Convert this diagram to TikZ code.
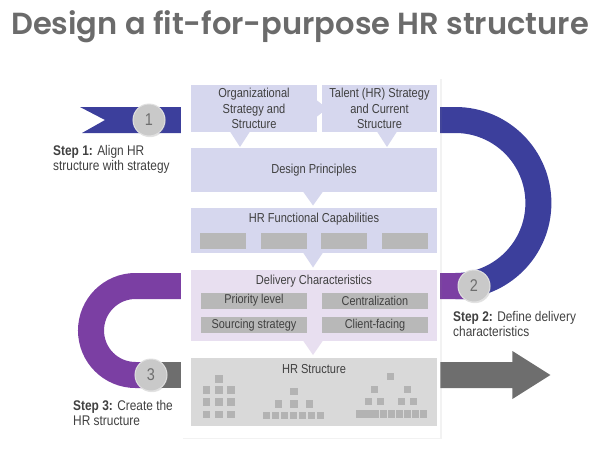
\documentclass[tikz,border=0pt]{standalone}
\usepackage{fontspec}
\setmainfont{Liberation Sans}[FakeStretch=0.85]
\newfontfamily\titlefont{Poppins SemiBold}
\usetikzlibrary{positioning,calc,shadows,backgrounds}
\definecolor{hrBlue}{HTML}{3C3F9C}
\definecolor{hrPurple}{HTML}{7B3FA3}
\definecolor{hrGrayDark}{HTML}{6E6E6E}
\definecolor{boxLavender}{HTML}{D6D7EE}
\definecolor{boxLilac}{HTML}{E8DFF0}
\definecolor{boxGray}{HTML}{D9D9D9}
\definecolor{chipGray}{HTML}{B8B8B8}
\definecolor{blockGray}{HTML}{B3B3B3}
\definecolor{textDark}{HTML}{404040}
\definecolor{titleGray}{HTML}{6B6B6B}
\definecolor{dotGray}{HTML}{C9C9C9}

\begin{document}
\begin{tikzpicture}[
    x=1pt, y=-1pt,
    font=\fontsize{13}{15.5}\selectfont,
    text=textDark,
    lavbox/.style={
        rectangle,
        fill=boxLavender,
        inner sep=0pt,
        outer sep=0pt,
        align=center
    },
    chip/.style={
        rectangle,
        fill=chipGray,
        inner sep=0pt,
        minimum height=16,
        minimum width=106,
        font=\fontsize{12.8}{15}\selectfont
    },
    pointer/.style={
        fill=boxLavender
    },
    band/.style={
        line width=26pt,
        line cap=butt
    },
    stepdot/.style={
        circle,
        fill=dotGray,
        draw=white!88!black,
        line width=1pt,
        minimum size=32,
        inner sep=0pt,
        text=hrGrayDark,
        font=\fontsize{17}{17}\selectfont,
        drop shadow={opacity=0.22, shadow xshift=1pt, shadow yshift=-1.2pt}
    },
    steplabel/.style={
        align=left,
        inner sep=0pt,
        text=textDark,
        font=\fontsize{14}{15.5}\selectfont
    },
    block/.style={
        fill=blockGray
    }
]
\useasboundingbox (0,0) rectangle (597,450);

% -------------------- Title -------------------------------
\node[font=\titlefont\fontsize{30.5}{30}\selectfont, text=titleGray] (title) at (300,27) {Design a fit-for-purpose HR structure};

% -------------------- Panel -------------------------------
\node[
  rectangle,
  fill=white,
  minimum width=259,
  minimum height=360,
  anchor=north west,
  drop shadow={opacity=0.1, shadow xshift=2pt, shadow yshift=-1pt}
] (panel) at (181,78) {};

% -------------------- Boxes -------------------------------
\node[lavbox, minimum width=126, minimum height=47, anchor=north west] (org) at (191,85) {Organizational\\Strategy and\\Structure};

\node[lavbox, minimum width=115, minimum height=47, right=5pt of org] (talent) {Talent (HR) Strategy\\and Current\\Structure};

\node[lavbox, minimum width=246, minimum height=44, below=16pt of org.south west, anchor=north west] (design) {Design Principles};

\node[lavbox, minimum width=246, minimum height=45, below=16pt of design] (func) {};
\node[inner sep=0pt] (funcTitle) at ($(func.north)+(0,11)$) {HR Functional Capabilities};
\foreach \dx [count=\i] in {-91,-30,30,91}
  \node[chip, minimum width=46, name=cap\i] at ($(func.south)+(\dx,-12)$) {};

\node[lavbox, fill=boxLilac, minimum width=246, minimum height=71, below=17pt of func] (deliv) {};
\node[inner sep=0pt] (delivTitle) at ($(deliv.north)+(0,11)$) {Delivery Characteristics};
\node[chip] (prio) at ($(deliv.north)+(-60,30.5)$) {Priority level};
\node[chip] (central) at ($(deliv.north)+(61,30.5)$) {Centralization};
\node[chip] (sourcing) at ($(deliv.north)+(-60,55)$) {Sourcing strategy};
\node[chip] (client) at ($(deliv.north)+(61,55)$) {Client-facing};

\node[lavbox, fill=boxGray, minimum width=246, minimum height=68, below=17pt of deliv] (hrs) {};
\node[inner sep=0pt] (hrsTitle) at ($(hrs.north)+(0,11)$) {HR Structure};

% org chart blocks
\foreach \x/\y in {219/379, 206.5/390, 219/390, 231/390, 206.5/402, 219/402, 231/402, 206.5/414.5, 219/414.5, 231/414.5,
                   294/391.5, 278.5/404, 294/404, 309.5/404,
                   266.7/415.5, 275.7/415.5, 284.7/415.5, 293.7/415.5, 302.7/415.5, 311.7/415.5, 320.7/415.5,
                   390.5/376.7, 374.4/389.5, 407.7/389.5, 368.7/401.4, 380.3/401.4, 401.8/401.4, 413.7/401.4,
                   360/414, 367.9/414, 375.8/414, 383.7/414, 391.6/414, 399.5/414, 407.4/414, 415.3/414, 423.2/414}
  \fill[block] (\x-3.6,\y-3.6) rectangle +(7.2,7.2);

% -------------------- Pointers ----------------------------
\fill[pointer] ($(org.east)+(-0.5,-8.5)$) -- ++(10.5,8.5) -- ++(-10.5,8.5) -- cycle;
\fill[pointer] ($(org.south)+(-14,-0.5)$) -- ++(10,0) -- ++(-10,15.5) -- ++(-10,-15.5) -- cycle;
\fill[pointer] ($(talent.south)+(7.5,-0.5)$) ++(-10,0) -- ++(20,0) -- ++(-10,15.5) -- cycle;
\fill[pointer] ($(design.south)+(-1,-0.5)$) ++(-10,0) -- ++(20,0) -- ++(-10,14) -- cycle;
\fill[pointer] ($(func.south)+(-1,-0.5)$) ++(-10,0) -- ++(20,0) -- ++(-10,15) -- cycle;
\fill[pointer, fill=boxLilac] ($(deliv.south)+(-1,-0.5)$) ++(-10,0) -- ++(20,0) -- ++(-10,14.5) -- cycle;

% -------------------- Steps -------------------------------
\node[stepdot] (s1) at (149,120) {1};
\node[stepdot] (s2) at (474,286) {2};
\node[stepdot] (s3) at (151,375) {3};

\node[steplabel, anchor=north west] (lbl1) at (53,145) {\textbf{Step 1:} Align HR\\structure with strategy};
\node[steplabel, anchor=north west] (lbl2) at (453,311) {\textbf{Step 2:} Define delivery\\characteristics};
\node[steplabel, anchor=north west] (lbl3) at (73,400) {\textbf{Step 3:} Create the\\HR structure};

% -------------------- Ribbons -----------------------------
\begin{scope}[on background layer]
\fill[hrBlue] (s1.center) ++(0,-13) -- (80,107) -- (105,120) -- (82,133) -- (149,133) -- cycle;
\draw[band, draw=hrBlue] (s1.center) -- (panel.east |- s1.center) -- ++(15,0)
  arc[start angle=-90, end angle=90, radius=83] -- (s2.center);
\draw[band, draw=hrPurple] (s2.center) -- (panel.west |- s2.center) -- ++(-45.5,0)
  arc[start angle=-90, end angle=-270, radius=44.5] -- (s3.center);
\draw[band, draw=hrGrayDark] (s3.center) -- (panel.west |- s3.center);
\fill[hrGrayDark] (panel.east |- s3.center) ++(0,-13) -- ++(72,0) -- ++(0,-11) -- ++(38,24)
  -- ++(-38,24) -- ++(0,-11) -- ++(-72,0) -- cycle;
\end{scope}

\end{tikzpicture}
\end{document}
